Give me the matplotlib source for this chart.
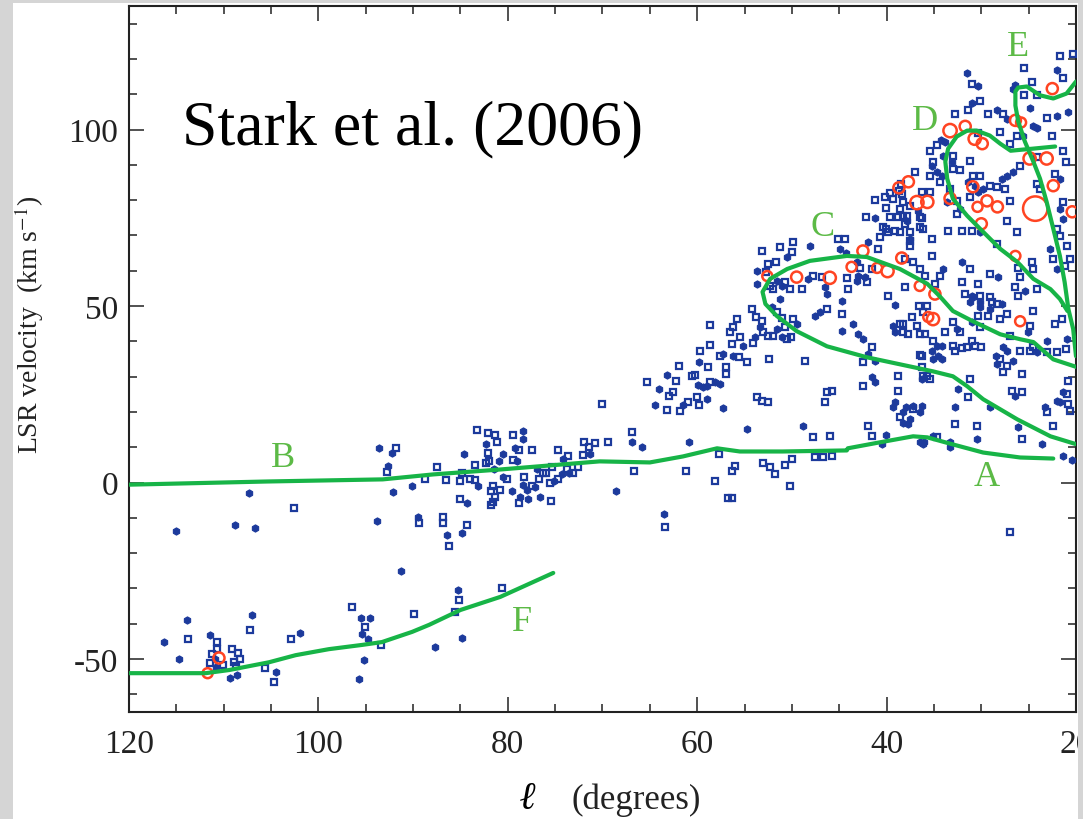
import numpy as np
import matplotlib
matplotlib.use("Agg")
from matplotlib import pyplot as plt
from matplotlib.patches import Rectangle

# galactic longitude / LSR velocity of the clouds
open_pts = [
    # F region
    (113.8, -44.3), (110.7, -45.2), (110.7, -47.2), (111.2, -48.6), (111.4, -51.1), (110.1, -51.7),
    (109.1, -47.2), (108.5, -48.3), (108.3, -50.0), (108.9, -50.9), (108.7, -52.0), (107.2, -41.8),
    (105.6, -52.6), (104.7, -56.5), (102.9, -44.3), (96.5, -35.2), (95.1, -40.9), (93.4, -46.0),
    (89.9, -37.2), (85.2, -33.2), (85.6, -36.6), (80.6, -29.8),
    # B region
    (102.6, -7.1), (91.8, 9.9), (92.8, 3.1), (89.4, -11.4), (86.8, -9.7), (86.8, -11.6), (86.2, -17.9),
    (84.3, -11.9), (88.7, 1.1), (87.5, 4.3), (86.5, 0.6),
    (83.3, 14.8), (82.1, 13.9), (81.4, 13.6), (81.1, 11.4), (82.1, 8.5), (82.0, 6.0), (82.3, 5.4),
    (79.4, 13.4), (78.8, 9.1), (79.4, 6.5), (77.4, 9.1), (80.1, 1.1), (81.6, -0.9), (81.8, -2.3),
    (80.8, -2.0), (81.3, -4.0), (81.6, -5.4), (81.8, -6.5), (78.3, 1.7), (77.4, -1.1), (78.8, -5.7),
    (76.7, 0.9), (76.3, 2.8), (75.4, -5.1), (76.0, 2.8), (75.3, 4.5), (75.5, 0.0), (74.7, 0.9),
    (73.7, 3.7), (73.1, 2.6), (72.6, 4.5), (73.6, 7.4), (74.7, 9.1), (72.1, 7.7), (71.4, 10.2),
    (70.8, 11.1), (72.0, 11.6), (69.4, 11.6), (66.9, 14.2), (66.7, 3.4), (70.1, 22.2), (84.8, 2.8),
    (85.0, 0.3), (84.0, 0.9), (83.5, 0.6), (85.0, -4.8), (83.5, 5.1), (63.4, -12.5),
    # 50-65 deg
    (61.2, 3.4), (58.1, 0.3), (56.7, -4.5), (56.3, -4.5), (57.7, 8.2), (56.3, 3.4), (56.0, 4.8),
    (53.7, 24.1), (53.2, 23.0), (52.5, 22.7), (53.1, 5.4), (52.3, 4.5), (51.8, 2.3), (50.7, 5.1),
    (50.0, 6.8), (50.2, -1.1), (59.8, 21.9), (61.0, 22.7), (61.8, 20.2), (63.2, 20.5), (62.6, 25.6),
    (63.0, 24.4), (65.3, 28.4), (62.2, 28.7), (61.9, 33.0), (60.5, 30.1), (60.2, 30.4), (58.6, 28.4),
    (60.0, 24.1), (58.9, 32.7), (57.0, 32.7), (57.0, 30.7), (59.7, 37.2), (58.6, 38.9), (57.6, 35.8),
    (55.6, 35.5), (54.7, 34.1), (56.3, 39.2), (55.5, 41.2), (54.1, 39.5), (52.4, 34.9), (56.5, 42.6),
    (56.2, 44.0), (55.8, 46.3), (58.6, 44.6), (54.2, 49.1), (53.8, 46.9), (53.2, 45.7), (53.1, 42.6),
    (52.5, 41.5), (52.0, 41.5), (50.5, 40.6), (50.1, 41.2), (53.2, 65.6), (51.3, 66.8), (49.9, 68.2),
    (52.5, 61.9), (51.7, 62.5), (52.7, 59.7), (52.3, 55.7), (52.0, 54.8), (50.7, 56.8), (50.2, 54.8),
    (50.0, 65.3), (51.6, 48.3), (51.0, 46.6), (49.9, 46.3), (50.7, 44.0),
    # C region
    (41.2, 80.1), (40.2, 81.0), (39.6, 82.1), (36.3, 82.4), (40.1, 77.8), (42.2, 75.3), (38.8, 75.3),
    (36.3, 75.0), (36.5, 72.4), (40.4, 72.4), (39.9, 71.0), (39.1, 71.3), (38.6, 71.0), (40.7, 69.6),
    (37.5, 68.5), (37.5, 67.0), (40.9, 66.2), (45.1, 69.0), (44.4, 69.0), (42.8, 60.8), (42.1, 56.8),
    (41.5, 60.5), (46.8, 58.2), (47.8, 58.5), (48.9, 54.8), (44.2, 58.0), (44.1, 54.8), (44.7, 47.7),
    (46.3, 49.1), (39.9, 52.8), (38.1, 55.4), (36.6, 50.0), (35.7, 50.0), (37.3, 46.9), (38.6, 44.9),
    (38.3, 42.6), (36.5, 42.0), (36.8, 44.3), (36.5, 36.1), (35.7, 30.1), (38.8, 30.1), (38.8, 25.9),
    (41.5, 38.4), (42.5, 34.1), (42.5, 27.3), (38.6, 18.5), (37.2, 20.7), (41.5, 13.1), (42.0, 15.9),
    (46.0, 13.1), (47.8, 12.8), (47.6, 7.1), (46.7, 7.1), (45.8, 7.4), (46.3, 25.6), (45.8, 25.9),
    (46.5, 22.7), (48.6, 34.4),
    # D / E region
    (21.7, 120.7), (20.3, 121.3), (21.4, 114.5), (24.1, 109.7), (24.6, 113.6), (25.5, 117.3),
    (25.5, 109.7), (23.1, 103.4), (22.5, 98.3), (21.4, 93.8), (21.1, 90.9), (26.2, 98.3), (28.0, 99.4),
    (27.7, 104.5), (29.3, 104.5), (30.1, 108.0), (31.4, 105.4), (31.0, 112.8), (32.8, 104.5),
    (30.3, 98.9), (27.0, 96.0), (24.1, 92.3), (22.2, 87.5), (24.1, 84.7), (23.8, 83.2), (21.4, 79.5),
    (22.0, 71.9), (21.7, 69.9), (21.0, 67.0), (22.4, 63.4), (21.2, 61.4), (20.6, 63.4), (32.6, 79.8),
    (33.3, 83.2), (34.4, 85.2), (35.1, 90.9), (35.4, 86.9), (33.0, 88.9), (32.2, 88.4), (31.2, 91.2),
    (30.9, 86.9), (30.1, 86.9), (29.1, 84.1), (28.3, 83.8), (27.5, 83.2), (25.9, 89.8), (27.0, 79.8),
    (31.2, 80.9), (32.6, 76.1), (33.5, 71.3), (32.0, 71.3), (31.0, 71.3), (27.3, 74.1), (26.2, 71.0),
    (28.3, 67.6), (24.6, 62.5), (24.5, 60.5), (26.1, 60.8), (25.9, 58.2), (29.1, 59.1), (30.4, 56.3),
    (30.1, 52.8), (29.1, 52.6), (32.0, 56.8), (34.4, 58.5), (34.9, 56.3), (31.2, 60.5), (36.5, 60.5),
    (37.2, 62.5), (38.1, 63.4), (35.9, 58.5), (35.2, 64.2), (35.2, 69.0), (36.2, 71.9), (38.1, 73.3),
    (37.8, 75.6), (36.5, 75.3), (38.3, 79.5), (38.4, 81.8), (37.0, 88.1), (34.7, 95.5), (35.4, 93.8),
    (33.0, 92.6), (38.5, 84.7), (38.7, 82.7), (39.3, 80.4), (35.4, 82.4), (37.5, 78.4), (38.6, 77.6),
    (38.3, 75.6), (39.6, 75.3), (40.1, 71.9), (37.5, 71.0),
    # below D, inside C
    (36.2, 48.3), (38.3, 44.9), (37.7, 42.0), (35.9, 42.0), (35.1, 40.1), (36.3, 35.8), (33.0, 38.6),
    (32.8, 37.2), (32.0, 38.1), (31.5, 38.4), (31.0, 40.1), (30.7, 38.6), (30.0, 38.4), (33.0, 45.5),
    (32.2, 42.6), (33.8, 42.6), (31.7, 53.4), (30.3, 47.2), (29.3, 47.2), (28.9, 51.1), (28.3, 50.6),
    (28.0, 46.3), (30.1, 44.0), (27.3, 47.7), (26.4, 55.4), (26.1, 52.8), (24.1, 54.8), (24.5, 48.6),
    (24.9, 44.3), (22.2, 44.9), (21.5, 46.3), (21.1, 37.8), (22.0, 36.9), (23.1, 36.9), (24.5, 38.4),
    (24.9, 37.2), (25.9, 37.2), (27.0, 41.5), (28.0, 34.9), (27.3, 33.0), (27.7, 31.2), (25.7, 30.7),
    (26.8, 25.9), (25.7, 25.6), (31.2, 29.3), (31.4, 24.1), (32.8, 16.5), (30.5, 15.9), (25.7, 12.2),
    (23.1, 19.9), (22.4, 15.9), (20.8, 22.2), (21.0, 25.0), (20.8, 28.7), (20.6, 20.2), (27.0, -13.9),
    (34.7, 12.8), (36.3, 32.7), (35.4, 29.3), (36.2, 30.1),
]

filled_pts = [
    (116.3, -45.2), (113.9, -38.9), (114.7, -50.0), (111.4, -43.2), (110.8, -52.3), (110.9, -50.0),
    (108.6, -54.5), (109.3, -55.4), (107.0, -37.5), (104.5, -53.7), (101.9, -42.6), (95.5, -38.4),
    (94.6, -38.4), (95.4, -42.9), (94.8, -44.3), (95.2, -50.3), (95.7, -55.7), (91.3, -25.0),
    (85.3, -30.4), (87.7, -46.6), (84.8, -44.0),
    (115.0, -13.6), (107.3, -3.1), (108.8, -11.9), (106.7, -12.8), (93.6, 9.9), (92.2, 8.5),
    (92.6, 4.8), (92.1, -2.6), (93.8, -10.8), (90.1, -0.9), (89.5, -9.7), (86.4, -14.8), (84.8, -14.2),
    (84.6, 8.0), (82.3, 10.8), (80.5, 8.2), (80.9, 6.0), (81.5, 3.7), (79.2, 9.9), (78.4, 14.5),
    (78.4, 12.2), (79.0, 6.0), (80.5, 1.7), (79.6, -2.3), (78.4, -0.6), (78.0, -2.0), (78.7, -4.0),
    (77.9, -4.8), (77.1, -1.4), (76.9, 3.7), (76.6, -4.0), (74.3, 2.3), (75.1, 0.3), (73.5, 2.6),
    (74.2, 6.8), (71.3, 8.2), (66.9, 11.4), (65.8, 10.2), (68.6, -2.3), (64.5, 21.9), (83.1, -1.1),
    (84.3, -5.7),
    (63.5, -8.8), (60.9, 11.4), (54.7, 15.3), (57.3, 21.0), (61.5, 21.9), (64.0, 26.4), (63.2, 30.4),
    (59.9, 27.6), (59.4, 27.0), (59.0, 27.3), (58.1, 28.4), (57.6, 27.8), (59.0, 23.6), (59.8, 34.1),
    (57.3, 36.4), (56.2, 35.8), (55.2, 38.6), (53.9, 41.2), (53.4, 44.0), (51.6, 43.5), (51.0, 41.2),
    (49.5, 44.9), (53.7, 59.9), (53.7, 56.3), (51.6, 57.1), (51.0, 55.7), (51.3, 52.0), (50.5, 63.9),
    (52.1, 49.7),
    (37.8, 74.1), (41.2, 75.0), (42.0, 68.2), (44.9, 66.2), (48.1, 67.0), (44.3, 64.9), (43.1, 62.5),
    (43.0, 58.5), (48.3, 57.7), (46.3, 53.4), (46.5, 55.4), (43.1, 57.1), (42.3, 58.2), (44.7, 51.4),
    (47.0, 48.3), (47.6, 47.2), (39.1, 50.3), (39.3, 44.3), (39.1, 42.6), (36.3, 29.3), (36.5, 19.9),
    (43.5, 44.9), (43.0, 42.0), (44.7, 42.9), (42.5, 40.6), (42.0, 36.4), (41.2, 34.4), (41.5, 29.8),
    (41.2, 28.6), (39.1, 22.7), (39.3, 21.3), (37.7, 16.5), (40.1, 13.6), (40.5, 10.8), (36.1, 11.4),
    (48.8, 15.9),
    (22.0, 116.8), (26.4, 112.5), (26.7, 111.6), (24.9, 106.0), (22.0, 103.7), (20.8, 105.1),
    (24.5, 101.1), (24.1, 100.3), (25.6, 98.3), (27.3, 103.1), (28.3, 105.4), (31.0, 107.4),
    (30.3, 112.2), (31.5, 115.9), (21.7, 86.1), (21.7, 77.6), (21.4, 74.7), (22.7, 66.2), (22.0, 60.5),
    (33.6, 79.5), (35.2, 89.8), (34.7, 88.1), (34.2, 86.9), (33.1, 90.9), (31.4, 85.2), (30.7, 84.1),
    (30.3, 82.4), (29.8, 83.2), (27.3, 86.9), (26.7, 88.1), (27.8, 86.1), (32.2, 77.6), (30.1, 71.0),
    (28.2, 58.2), (31.0, 52.8), (32.0, 62.5), (34.0, 60.5), (37.5, 69.0), (36.7, 77.0), (34.0, 92.6),
    (34.3, 96.9), (33.8, 96.6),
    (34.7, 38.6), (35.2, 37.2), (34.2, 38.6), (34.6, 35.8), (34.2, 34.9), (35.1, 34.9), (32.6, 43.5),
    (31.2, 51.1), (30.9, 52.6), (30.1, 49.7), (30.1, 51.1), (29.1, 49.1), (27.8, 50.6), (31.0, 45.5),
    (25.4, 54.3), (25.1, 42.6), (20.9, 40.6), (23.1, 40.1), (24.1, 36.9), (27.7, 38.4), (27.3, 37.2),
    (26.7, 34.4), (28.3, 33.5), (28.5, 35.8), (26.4, 24.4), (32.5, 26.4), (32.8, 21.3), (29.1, 21.3),
    (30.5, 12.2), (33.3, 10.2), (26.1, 15.6), (23.6, 10.8), (23.3, 21.3), (22.0, 23.0), (21.7, 22.7),
    (21.4, 25.6), (21.4, 7.4), (20.4, 6.5), (38.3, 19.9), (37.9, 21.3), (37.2, 21.6), (37.5, 17.9),
    (38.3, 17.0), (36.3, 21.6), (36.5, 11.4), (36.2, 10.8), (35.1, 13.1), (33.3, 11.4),
]

# red clouds: l, v, symbol size
red_pts = [
    (110.5, -49.7, 10), (111.7, -54.0, 9), (52.6, 58.5, 9), (49.5, 58.2, 10), (38.7, 83.5, 10),
    (37.7, 85.2, 10), (36.8, 79.3, 12), (35.7, 79.5, 11), (42.5, 65.6, 10), (43.7, 61.1, 9),
    (41.0, 60.8, 9), (39.9, 59.9, 11), (38.4, 63.6, 10), (46.0, 58.0, 11), (35.6, 46.9, 9),
    (36.5, 55.7, 9), (22.5, 111.6, 10), (26.4, 102.6, 10), (25.8, 102.0, 9), (33.3, 99.7, 12),
    (31.7, 100.9, 10), (30.7, 97.4, 11), (29.9, 96.0, 10), (24.9, 91.8, 11), (23.1, 91.8, 11),
    (22.4, 84.1, 10), (24.3, 77.6, 22), (20.4, 76.7, 10), (29.4, 79.8, 10), (28.3, 78.1, 10),
    (30.4, 78.1, 9), (30.0, 73.3, 10), (26.4, 64.2, 9), (33.3, 80.5, 10), (34.9, 53.4, 10),
    (35.1, 46.3, 11), (25.9, 45.7, 9), (30.9, 83.8, 10),
]

# loci A-F
line_AB = [(120, -0.6), (105.4, 0.3), (93.2, 0.9), (87.9, 2.3), (80.8, 3.7), (70.3, 6.0), (65.0, 5.7),
           (61.5, 7.4), (57.9, 9.7), (55.5, 8.8), (51.0, 8.8), (44.2, 9.1), (44.1, 9.7), (40.7, 11.4),
           (37.2, 13.1), (35.7, 12.8), (33.0, 10.8), (29.8, 8.5), (25.9, 7.1), (22.4, 6.8)]
line_F = [(120, -54.0), (116.5, -54.0), (111.9, -54.0), (109.4, -53.1), (105.2, -50.9), (102.4, -48.9),
          (98.9, -47.2), (95.4, -46.0), (93.3, -45.2), (90.1, -42.3), (88.3, -40.3), (85.0, -36.1),
          (80.8, -32.4), (75.2, -25.6)]
line_C = [(19.9, 32.7), (22.4, 34.9), (24.5, 39.8), (25.9, 40.6), (28.0, 42.0), (30.9, 45.7), (33.0, 48.6),
          (34.4, 52.8), (35.7, 56.3), (38.6, 60.5), (42.1, 63.9), (44.2, 64.2), (48.1, 62.8), (50.5, 60.5),
          (52.3, 57.7), (53.1, 54.0), (52.8, 50.6), (51.6, 47.2), (49.5, 42.9), (46.3, 38.6), (42.1, 35.5),
          (38.6, 33.5), (35.1, 31.5), (33.0, 30.1), (31.5, 27.3), (29.8, 23.6), (26.2, 17.9), (22.7, 13.1),
          (19.9, 10.8)]
line_D = [(22.2, 95.2), (24.5, 94.6), (26.9, 94.0), (28.0, 96.0), (29.1, 98.3), (30.5, 99.7), (31.5, 99.7),
          (32.6, 98.0), (33.5, 94.6), (33.8, 90.9), (33.6, 86.1), (33.0, 80.4), (31.5, 75.6), (29.8, 71.0),
          (28.0, 66.2), (26.2, 62.5), (24.5, 57.7), (22.7, 54.8), (21.7, 52.0), (20.9, 48.6)]
line_E = [(20.0, 113.6), (21.0, 110.2), (22.4, 108.8), (23.8, 109.7), (25.2, 112.2), (26.1, 111.9),
          (26.4, 110.8), (26.4, 106.8), (26.1, 102.3), (25.4, 96.6), (24.5, 90.9), (23.8, 86.1),
          (23.1, 79.5), (22.4, 71.9), (21.7, 64.2), (21.2, 56.8), (20.8, 49.1), (20.3, 43.5), (20.0, 35.8)]

letters = ["A", "B", "C", "D", "E", "F"]
letter_l = [29.4, 103.7, 46.8, 35.9, 26.1, 78.5]
letter_v = [1.7, 7.1, 72.4, 102.6, 123.6, -39.5]

serif = ["Liberation Serif", "DejaVu Serif"]
plt.rcParams["font.family"] = serif
plt.rcParams["mathtext.fontset"] = "stix"
plt.rcParams["axes.unicode_minus"] = False

blue = "#1c3a9c"
red = "#ff4422"
green = "#17b447"
green_txt = "#5cba46"
gray = "#d5d5d5"

W, H = 1083, 820
fig = plt.figure(figsize=(W / 100, H / 100), dpi=100, facecolor=gray)
fig.add_artist(Rectangle((13 / W, 0), (1078 - 13) / W, 816 / H, transform=fig.transFigure,
                         facecolor="white", edgecolor="none", zorder=-5))

ax = fig.add_axes([129 / W, 107 / H, 947 / W, 706 / H])
ax.set_xlim(120, 20)
ax.set_ylim(-65, 135)

op = np.array(open_pts)
fp = np.array(filled_pts)
rp = np.array(red_pts)

ax.plot(op[:, 0], op[:, 1], ls="none", marker="s", ms=4.6, mfc="none", mec=blue, mew=1.6, zorder=3)
ax.plot(fp[:, 0], fp[:, 1], ls="none", marker="h", ms=5.2, mfc=blue, mec=blue, mew=0.8, zorder=3)
ax.scatter(rp[:, 0], rp[:, 1], s=(rp[:, 2] * 0.8) ** 2, facecolors="none", edgecolors=red,
           linewidths=1.8, zorder=4)

for ln in [line_AB, line_F, line_C, line_D, line_E]:
    a = np.array(ln)
    ax.plot(a[:, 0], a[:, 1], color=green, lw=3.0, solid_capstyle="round", solid_joinstyle="round", zorder=5)

for t, l, v in zip(letters, letter_l, letter_v):
    ax.text(l, v, t, color=green_txt, fontsize=26, ha="center", va="center", zorder=6)

ax.text(0.056, 0.826, "Stark et al. (2006)", transform=ax.transAxes, fontsize=46,
        ha="left", va="center", color="black")

ax.set_xticks([120, 100, 80, 60, 40, 20])
ax.set_xticks(np.arange(20, 121, 5), minor=True)
ax.set_yticks([-50, 0, 50, 100])
ax.set_yticks(np.arange(-60, 131, 10), minor=True)
ax.tick_params(which="both", direction="in", top=True, right=True, width=1.1, color="#222222")
ax.tick_params(which="major", length=11, labelsize=24, labelcolor="#222222")
ax.tick_params(which="minor", length=6)
ax.tick_params(axis="y", pad=8)
ax.tick_params(axis="x", pad=12)
for sp in ax.spines.values():
    sp.set_linewidth(1.5)
    sp.set_color("#222222")

ax.text(-0.105, 0.55, "LSR velocity  (km s$^{\\mathrm{-1}}$)", transform=ax.transAxes, rotation=90,
        fontsize=20, ha="center", va="center", color="#222222")
ax.text(0.421, -0.123, "\u2113", transform=ax.transAxes, fontsize=28, fontweight="bold",
        fontstyle="italic", ha="center", va="center", color="black")
ax.text(0.536, -0.123, "(degrees)", transform=ax.transAxes, fontsize=25,
        ha="center", va="center", color="#222222")

# right-hand border strip
fig.add_artist(Rectangle((1078 / W, 0), 5 / W, 1, transform=fig.transFigure,
                         facecolor=gray, edgecolor="none", zorder=10))

fig.savefig("out.png", dpi=100, facecolor=gray)
